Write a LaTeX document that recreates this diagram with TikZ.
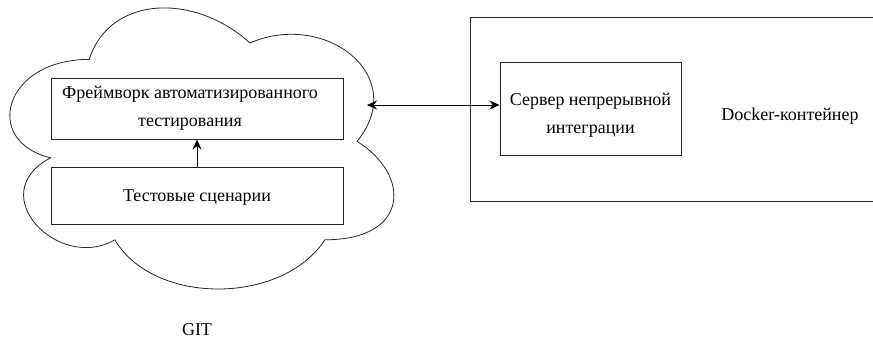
\documentclass[tikz,border=0pt]{standalone}
\usepackage{fontspec}
\setmainfont{Liberation Serif}
\newfontfamily\timesfont{Liberation Serif}
\usetikzlibrary{arrows.meta}

\begin{document}
\begin{tikzpicture}[x=1pt,y=-1pt,
	box/.style={draw=black!85,line width=1pt,inner sep=0pt},
	txt/.style={align=center,inner sep=0pt},
	arr/.style={draw=black,line width=1pt,-{Stealth[length=10pt,width=9pt]}},
	font=\timesfont\fontsize{18}{28}\selectfont]
	\useasboundingbox (0,0) rectangle (873,340);

	% cloud (GIT)
	\begin{scope}[shift={(-18,-22.6)},x=428.6pt,y=-328pt]
		\draw[black!85,line width=0.8pt] (0.25,0.25)
		.. controls (0.05,0.25) and (0,0.5) .. (0.16,0.55)
		.. controls (0,0.66) and (0.18,0.9) .. (0.31,0.8)
		.. controls (0.4,1) and (0.7,1) .. (0.8,0.8)
		.. controls (1,0.8) and (1,0.6) .. (0.875,0.5)
		.. controls (1,0.3) and (0.8,0.1) .. (0.625,0.2)
		.. controls (0.5,0.05) and (0.3,0.05) .. (0.25,0.25) -- cycle;
	\end{scope}
	\node[txt] (git) at (197,330) {GIT};

	\node[box,minimum width=292pt,minimum height=61pt] (framework) at (197,108.5) {};
	\node[txt,xshift=-7pt] (frameworktext) at (framework.center)
		{Фреймворк автоматизированного\\тестирования};
	\node[box,minimum width=292pt,minimum height=57pt] (scenarios) at (197,195.5) {};
	\node[txt,yshift=-2pt] (scenariostext) at (scenarios.center) {Тестовые сценарии};
	\draw[arr] (scenarios) -- (framework);

	% docker container
	\draw[black!85,line width=1pt] (873,17) -- (470,17) -- (470,201) -- (873,201);
	\node (docker) at (790,116) {Docker-контейнер};
	\node[box,minimum width=181pt,minimum height=93pt] (server) at (590.5,108.5) {};
	\node[txt,yshift=-7pt] (servertext) at (server.center)
		{Сервер непрерывной\\интеграции};

	\coordinate (cloudedge) at (367,105);
	\draw[arr,{Stealth[length=10pt,width=9pt]}-{Stealth[length=10pt,width=9pt]}] (cloudedge) -- (cloudedge -| server.west);
\end{tikzpicture}
\end{document}
